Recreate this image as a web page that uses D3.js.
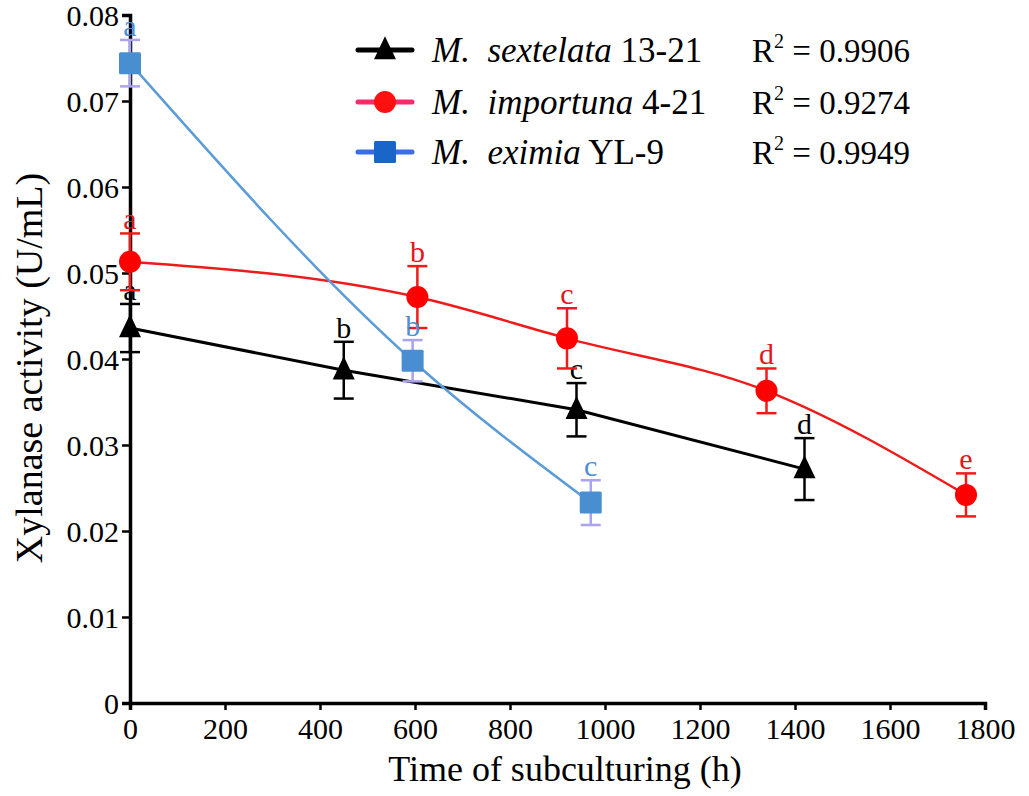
<!DOCTYPE html>
<html>
<head>
<meta charset="utf-8">
<title>Xylanase activity vs subculturing time</title>
<style>
body { margin: 0; background: #fff; }
#chart { width: 1029px; height: 796px; display: block; }
#chart text { font-family: "Liberation Serif", Tinos, "Times New Roman", Times, "DejaVu Serif", serif; }
.axis path, .axis line { stroke: #000; }
.axis text { font-size: 30px; fill: #000; }
</style>
</head>
<body>

<svg id="chart" width="1029" height="796"></svg>

<script src="https://d3js.org/d3.v7.min.js"></script>
<script>

// axis ticks
const xTicks = [0, 200, 400, 600, 800, 1000, 1200, 1400, 1600, 1800];
const yTicks = [0, 0.01, 0.02, 0.03, 0.04, 0.05, 0.06, 0.07, 0.08];
const yTickLabels = ["0", "0.01", "0.02", "0.03", "0.04", "0.05", "0.06", "0.07", "0.08"];

// M. sextelata 13-21
const sexX = [0, 450, 940, 1420];
const sexY = [0.0436, 0.0387, 0.0341, 0.0272];
const sexErr = [0.0028, 0.0033, 0.0031, 0.0036];
const sexLetters = ["a", "b", "c", "d"];

// M. importuna 4-21
const impX = [0, 605, 920, 1340, 1760];
const impY = [0.0513, 0.0472, 0.0424, 0.0363, 0.0242];
const impErr = [0.0033, 0.0036, 0.0035, 0.0026, 0.0025];
const impLetters = ["a", "b", "c", "d", "e"];

// M. eximia YL-9
const exiX = [0, 595, 970];
const exiY = [0.0744, 0.0398, 0.0233];
const exiErr = [0.0027, 0.0024, 0.0026];
const exiLetters = ["a", "b", "c"];

// legend
const legendNames = ["M.", "M.", "M."];
const legendSpecies = ["sextelata", "importuna", "eximia"];
const legendStrains = ["13-21", "4-21", "YL-9"];
const legendR2 = ["0.9906", "0.9274", "0.9949"];

const svg = d3.select("#chart");

const x = d3.scaleLinear().domain([0, 1800]).range([130, 985]);
const y = d3.scaleLinear().domain([0, 0.08]).range([703, 15]);

function zip(xs, ys, es, ls) {
  return xs.map((v, i) => ({ x: v, y: ys[i], e: es[i], l: ls[i] }));
}

const series = [
  { data: zip(sexX, sexY, sexErr, sexLetters), line: "#000", fill: "#000", err: "#000", label: "#000",
    curve: d3.curveLinear, width: 3, marker: "tri" },
  { data: zip(impX, impY, impErr, impLetters), line: "#f01a1a", fill: "#ff0000", err: "#f01a1a", label: "#e8141c",
    curve: d3.curveMonotoneX, width: 2.5, marker: "circle" },
  { data: zip(exiX, exiY, exiErr, exiLetters), line: "#5a9bd8", fill: "#4a8ed2", err: "#a9a3f0", label: "#4f8fd8",
    curve: d3.curveMonotoneX, width: 2.5, marker: "square" }
];

// axes
const xAxis = svg.append("g")
  .attr("class", "axis")
  .attr("transform", `translate(0,${y(0)})`)
  .call(d3.axisBottom(x).tickValues(xTicks).tickSizeOuter(0).tickSize(7).tickPadding(2)
    .tickFormat(d3.format("d")));

const yAxis = svg.append("g")
  .attr("class", "axis")
  .attr("transform", `translate(${x(0)},0)`)
  .call(d3.axisLeft(y).tickValues(yTicks).tickSizeOuter(0).tickSize(8).tickPadding(3)
    .tickFormat((d, i) => yTickLabels[i]));

svg.selectAll(".axis").attr("font-family", null);
svg.selectAll(".axis path").attr("stroke-width", 3.5);
svg.selectAll(".axis line").attr("stroke-width", 2.5);
xAxis.selectAll("text").attr("dy", "0.9em");
yAxis.selectAll("text").attr("dy", "0.36em");

// axis titles
svg.append("text")
  .attr("x", 565)
  .attr("y", 781)
  .attr("text-anchor", "middle")
  .attr("font-size", 36)
  .text("Time of subculturing (h)");

svg.append("text")
  .attr("transform", "translate(42,368) rotate(-90)")
  .attr("text-anchor", "middle")
  .attr("font-size", 38)
  .text("Xylanase activity (U/mL)");

// marker helper
function drawMarker(g, type, cx, cy, fill, s) {
  if (type === "tri") {
    const h = s * 1.05;
    g.append("path")
      .attr("d", `M${cx},${cy - h * 0.6}L${cx + s / 2},${cy + h * 0.4}L${cx - s / 2},${cy + h * 0.4}Z`)
      .attr("fill", fill);
  } else if (type === "circle") {
    g.append("circle").attr("cx", cx).attr("cy", cy).attr("r", s / 2).attr("fill", fill);
  } else {
    g.append("rect")
      .attr("x", cx - s / 2).attr("y", cy - s / 2)
      .attr("width", s).attr("height", s)
      .attr("rx", 1.5)
      .attr("fill", fill);
  }
}

// lines
series.forEach(s => {
  svg.append("path")
    .datum(s.data)
    .attr("fill", "none")
    .attr("stroke", s.line)
    .attr("stroke-width", s.width)
    .attr("d", d3.line().x(d => x(d.x)).y(d => y(d.y)).curve(s.curve));
});

// error bars, markers, letters
series.forEach(s => {
  const g = svg.append("g");
  s.data.forEach(d => {
    const cx = x(d.x);
    const top = y(d.y + d.e);
    const bot = y(d.y - d.e);
    g.append("line").attr("x1", cx).attr("x2", cx).attr("y1", top).attr("y2", bot)
      .attr("stroke", s.err).attr("stroke-width", 2.5);
    [top, bot].forEach(yy => {
      g.append("line").attr("x1", cx - 10).attr("x2", cx + 10).attr("y1", yy).attr("y2", yy)
        .attr("stroke", s.err).attr("stroke-width", 2.5);
    });
    drawMarker(g, s.marker, cx, y(d.y), s.fill, 22);
    g.append("text")
      .attr("x", cx)
      .attr("y", top - 4)
      .attr("text-anchor", "middle")
      .attr("font-size", 30)
      .attr("fill", s.label)
      .text(d.l);
  });
});

// legend
const legendLine = ["#000", "#ff2a6a", "#3a6ee8"];
const legendFill = ["#000", "#ff1010", "#1a66c8"];
const legendRowY = [50, 102, 152];
legendRowY.forEach((ly, i) => {
  const g = svg.append("g");
  g.append("line").attr("x1", 358).attr("x2", 412).attr("y1", ly).attr("y2", ly)
    .attr("stroke", legendLine[i]).attr("stroke-width", 5).attr("stroke-linecap", "round");
  drawMarker(g, series[i].marker, 385, ly, legendFill[i], 22);
  const t = g.append("text").attr("x", 432).attr("y", ly + 12).attr("font-size", 35);
  t.append("tspan").attr("font-style", "italic").text(legendNames[i] + "\u00a0 " + legendSpecies[i]);
  t.append("tspan").text(" " + legendStrains[i]);
  const r = g.append("text").attr("x", 752).attr("y", ly + 12).attr("font-size", 33);
  r.append("tspan").text("R");
  r.append("tspan").attr("font-size", 20).attr("dy", -14).text("2");
  r.append("tspan").attr("dy", 14).text(" = " + legendR2[i]);
});

</script>
</body>
</html>
